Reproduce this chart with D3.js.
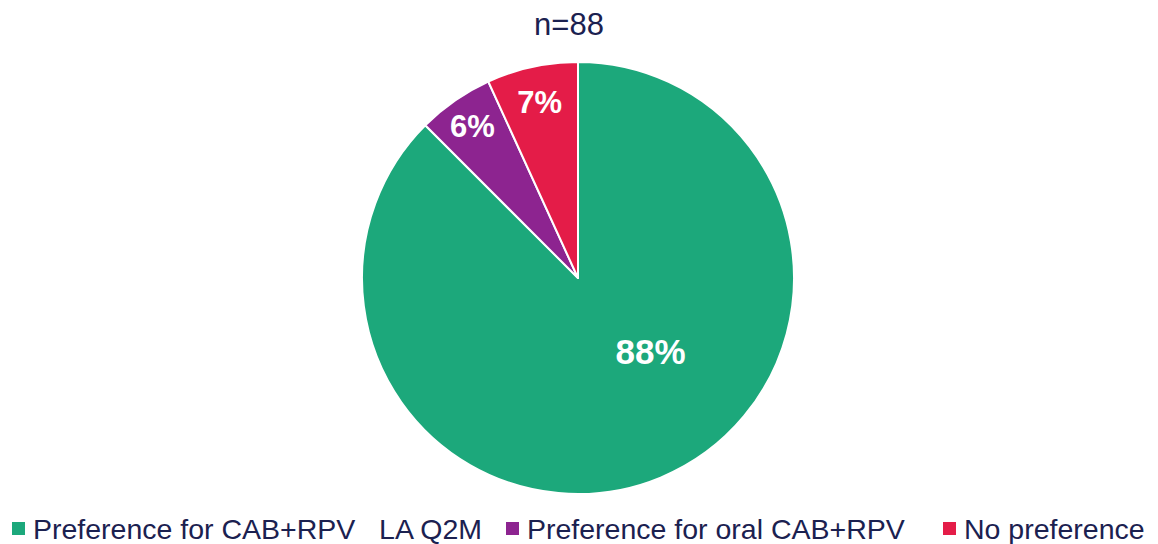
<!DOCTYPE html>
<html><head><meta charset="utf-8">
<script src="https://cdn.jsdelivr.net/npm/d3@7"></script>
<style>body{margin:0;background:#fff;} svg{display:block;} text{white-space:pre;}</style>
</head><body>
<svg id="chart" width="1158" height="544"></svg>
<script>
const categories = ["Preference for CAB+RPV   LA Q2M", "Preference for oral CAB+RPV", "No preference"];
const counts = [77, 5, 6];
const labels = ["88%", "6%", "7%"];
const colors = ["#1ca87b", "#8d2490", "#e41c48"];
const title = "n=88";

const svg = d3.select("#chart");
const cx = 578, cy = 278, R = 216;
const textColor = "#1b2150";
const font = "'Liberation Sans', Arial, sans-serif";

svg.append("text").attr("x", 569).attr("y", 35).attr("text-anchor", "middle")
  .attr("font-family", font).attr("font-size", 31).attr("fill", textColor).text(title);

const pie = d3.pie().sort(null).value(d => d)(counts);
const arc = d3.arc().innerRadius(0).outerRadius(R);
const g = svg.append("g").attr("transform", `translate(${cx},${cy})`);
g.selectAll("path").data(pie).join("path")
  .attr("d", arc).attr("fill", (d, i) => colors[i])
  .attr("stroke", "#fff").attr("stroke-width", 2).attr("stroke-linejoin", "round");

const labelK = [0.477, 0.857, 0.833];
const angleShift = [-22.3, 0, 0];
const labelSize = [35, 31, 31];
g.selectAll("text.lbl").data(pie).join("text").attr("class", "lbl")
  .each(function(d, i) {
    const a = (d.startAngle + d.endAngle) / 2 + angleShift[i] * Math.PI / 180;
    const r = R * labelK[i];
    d3.select(this).attr("x", Math.sin(a) * r).attr("y", -Math.cos(a) * r);
  })
  .attr("text-anchor", "middle").attr("dy", "0.36em")
  .attr("font-family", font).attr("font-weight", "bold").attr("font-size", (d, i) => labelSize[i])
  .attr("fill", "#fff").text((d, i) => labels[i]);

const legendX = [12, 506, 943];
const lg = svg.append("g");
categories.forEach((c, i) => {
  lg.append("rect").attr("x", legendX[i]).attr("y", 522).attr("width", 13).attr("height", 13).attr("fill", colors[i]);
  lg.append("text").attr("x", legendX[i] + 21).attr("y", 539)
    .attr("font-family", font).attr("font-size", 28.5).attr("fill", textColor)
    .text(c);
});
</script>
</body></html>
